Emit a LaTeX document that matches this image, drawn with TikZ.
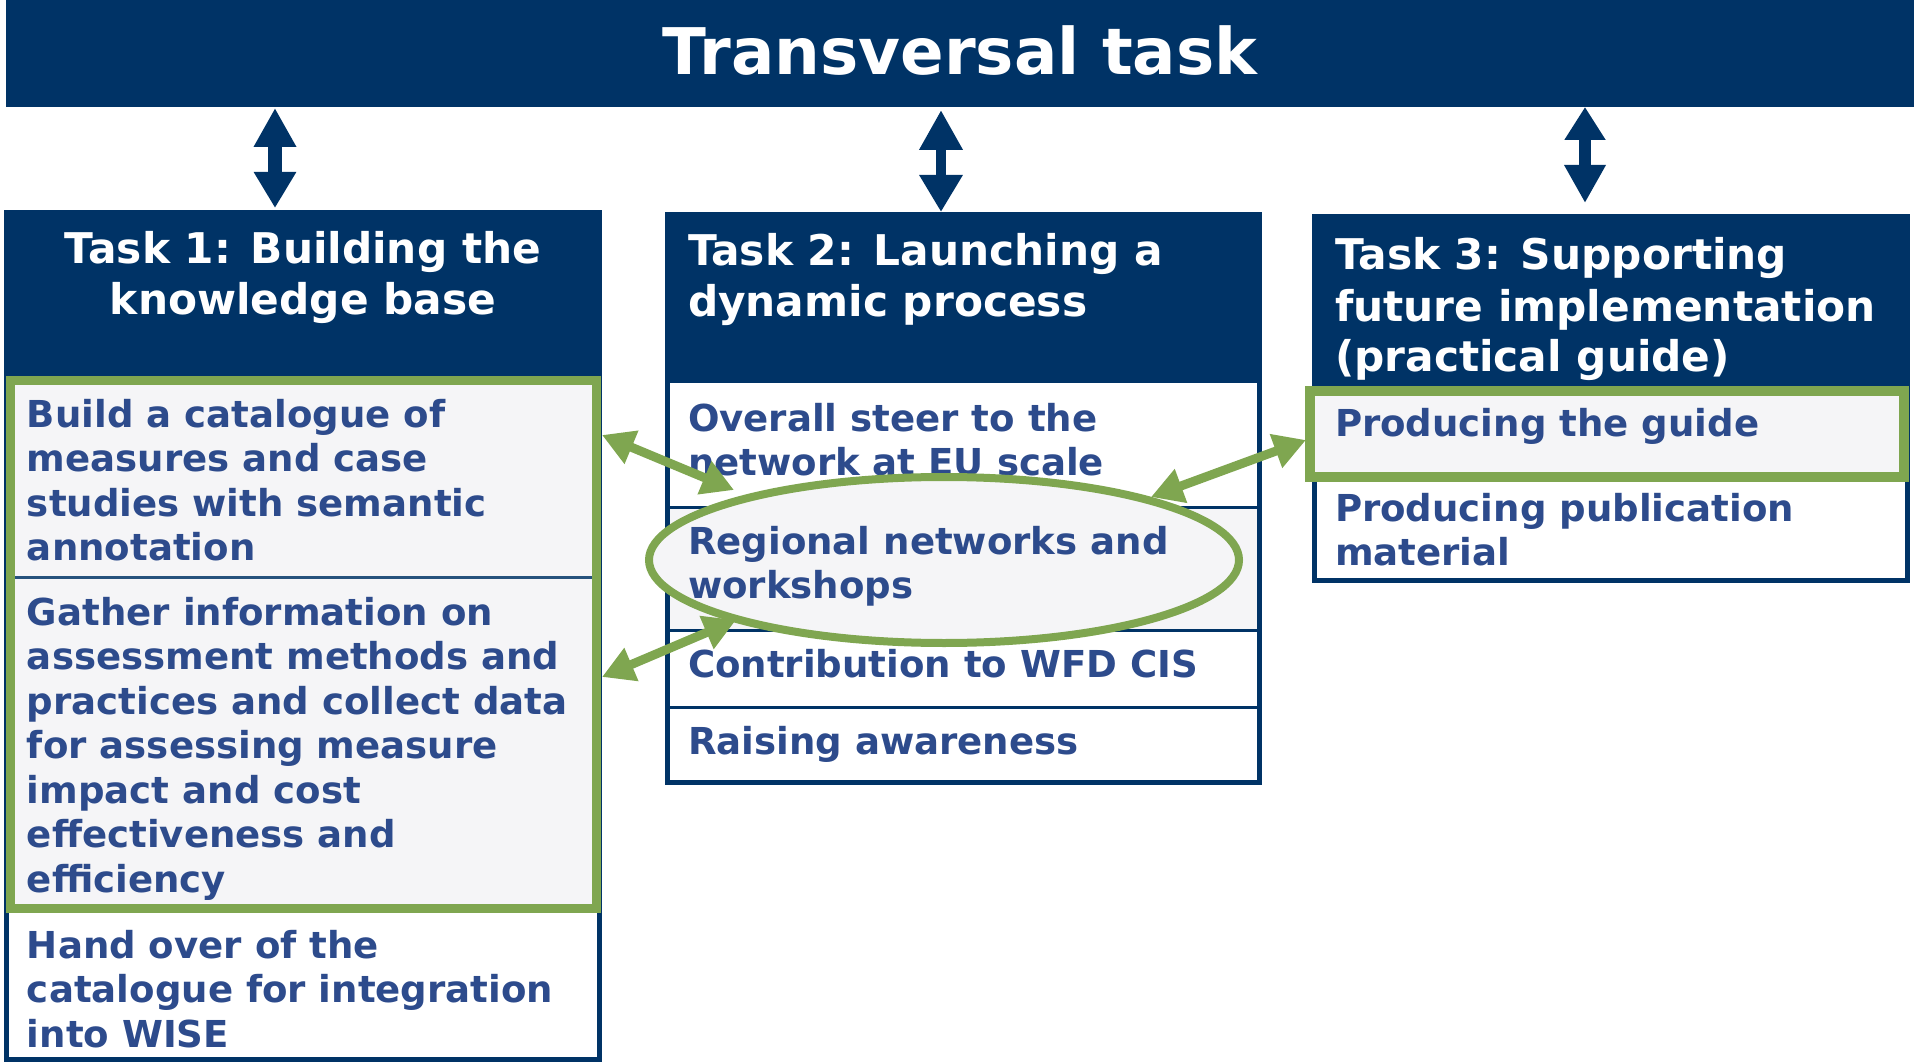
\documentclass[tikz,border=0pt]{standalone}
\usepackage{fontspec}
\setmainfont{DejaVu Sans}
\usetikzlibrary{arrows.meta,calc,shapes.geometric}
\definecolor{navy}{RGB}{0,51,102}
\definecolor{itemblue}{RGB}{45,75,140}
\definecolor{lgreen}{RGB}{127,166,80}
\definecolor{hatch}{RGB}{245,245,247}
\begin{document}
\begin{tikzpicture}[x=1pt,y=-1pt,
  every node/.style={inner sep=0pt, outer sep=0pt},
  titletxt/.style={font=\fontsize{64.3}{70}\selectfont\bfseries, text=white},
  headtxt/.style={font=\fontsize{42.3}{51}\selectfont\bfseries, text=white},
  itemtxt/.style={font=\fontsize{37.1}{44.5}\selectfont\bfseries, text=itemblue, align=left, anchor=base west},
  frameline/.style={draw=navy, line width=5pt},
  rowline/.style={draw=navy, line width=3pt},
  greenframe/.style={draw=lgreen, line width=9pt},
  navyarrow/.style={draw=navy, line width=#1},
  greenarrow/.style={draw=lgreen, line width=9pt, {Triangle[length=32pt,width=34pt]}-{Triangle[length=32pt,width=34pt]}}
]
\useasboundingbox (0,0) rectangle (1914,1064);

% banner
\node[fill=navy, minimum width=1908pt, minimum height=107pt, anchor=north west] (banner) at (6,0) {};
\node[titletxt, anchor=base] (title) at (960,75) {Transversal task};

% ---------- Task 1 ----------
\fill[navy] (4,210) rectangle (602,377);
\node[anchor=north west, minimum width=593pt, minimum height=847pt, frameline] (t1) at (6.5,212.5) {};
\fill[hatch] (6,376) rectangle (601,913);
\draw[rowline, draw=navy!85] (12,577) -- (595,577);
\node[anchor=north west, minimum width=586pt, minimum height=528pt, greenframe] (t1g) at (10.5,380.5) {};
\node[headtxt, align=center, anchor=base] (t1h) at (303,315) {Task 1: Building the\\knowledge base};
\node[itemtxt] (t1a) at (27,560.5) {Build a catalogue of\\measures and case\\studies with semantic\\annotation};
\node[itemtxt] (t1b) at (27,892) {Gather information on\\assessment methods and\\practices and collect data\\for assessing measure\\impact and cost\\effectiveness and\\efficiency};
\node[itemtxt] (t1c) at (27,1047) {Hand over of the\\catalogue for integration\\into WISE};

% ---------- Task 2 ----------
\fill[navy] (665,212) rectangle (1262,383);
\fill[hatch] (668,508) rectangle (1259,629);
\node[anchor=north west, minimum width=592pt, minimum height=568pt, frameline] (t2) at (667.5,214.5) {};
\draw[rowline] (665,507) -- (1262,507);
\draw[rowline] (665,630) -- (1262,630);
\draw[rowline] (665,707) -- (1262,707);
\fill[hatch] (944,560) ellipse [x radius=295, y radius=83];
\node[headtxt, align=left, anchor=base west] (t2h) at (688,317) {Task 2: Launching a\\dynamic process};
\node[itemtxt] (t2a) at (688,475.5) {Overall steer to the\\network at EU scale};
\node[itemtxt] (t2b) at (688,598.5) {Regional networks and\\workshops};
\node[itemtxt] (t2c) at (688,677) {Contribution to WFD CIS};
\node[itemtxt] (t2d) at (688,754) {Raising awareness};
\node[draw=lgreen, line width=8pt, ellipse, minimum width=590pt, minimum height=166pt] (ell) at (944,560) {};

% ---------- Task 3 ----------
\fill[navy] (1312,214) rectangle (1910,388);
\node[anchor=north west, minimum width=593pt, minimum height=364pt, frameline] (t3) at (1314.5,216.5) {};
\fill[hatch] (1305,386) rectangle (1909,482);
\node[anchor=north west, minimum width=594pt, minimum height=86pt, greenframe, line width=10pt] (t3g) at (1310,391) {};
\node[headtxt, align=left, anchor=base west] (t3h) at (1335,372) {Task 3: Supporting\\future implementation\\(practical guide)};
\node[itemtxt] (t3a) at (1335,436) {Producing the guide};
\node[itemtxt] (t3b) at (1335,565.5) {Producing publication\\material};

% ---------- navy double arrows ----------
\coordinate (a1t) at (275,108);
\coordinate (a1b) at (275,208);
\coordinate (a2t) at (941,110);
\coordinate (a2b) at (941,212);
\coordinate (a3t) at (1585,107);
\coordinate (a3b) at (1585,203);
\draw[navyarrow=14pt, {Triangle[length=39pt,width=40pt]}-{Triangle[length=36pt,width=40pt]}] (a1t) -- (a1b);
\draw[navyarrow=10pt, {Triangle[length=40pt,width=41pt]}-{Triangle[length=37pt,width=41pt]}] (a2t) -- (a2b);
\draw[navyarrow=12pt, {Triangle[length=33pt,width=39pt]}-{Triangle[length=38pt,width=39pt]}] (a3t) -- (a3b);

% ---------- green double arrows ----------
\coordinate (g1a) at (602,435);
\coordinate (g1b) at (734,490);
\coordinate (g2a) at (602,677);
\coordinate (g2b) at (736,620);
\coordinate (g3a) at (1151,497);
\coordinate (g3b) at (1306,440);
\draw[greenarrow] (g1a) -- (g1b);
\draw[greenarrow] (g2a) -- (g2b);
\draw[greenarrow] (g3a) -- (g3b);
\end{tikzpicture}
\end{document}
